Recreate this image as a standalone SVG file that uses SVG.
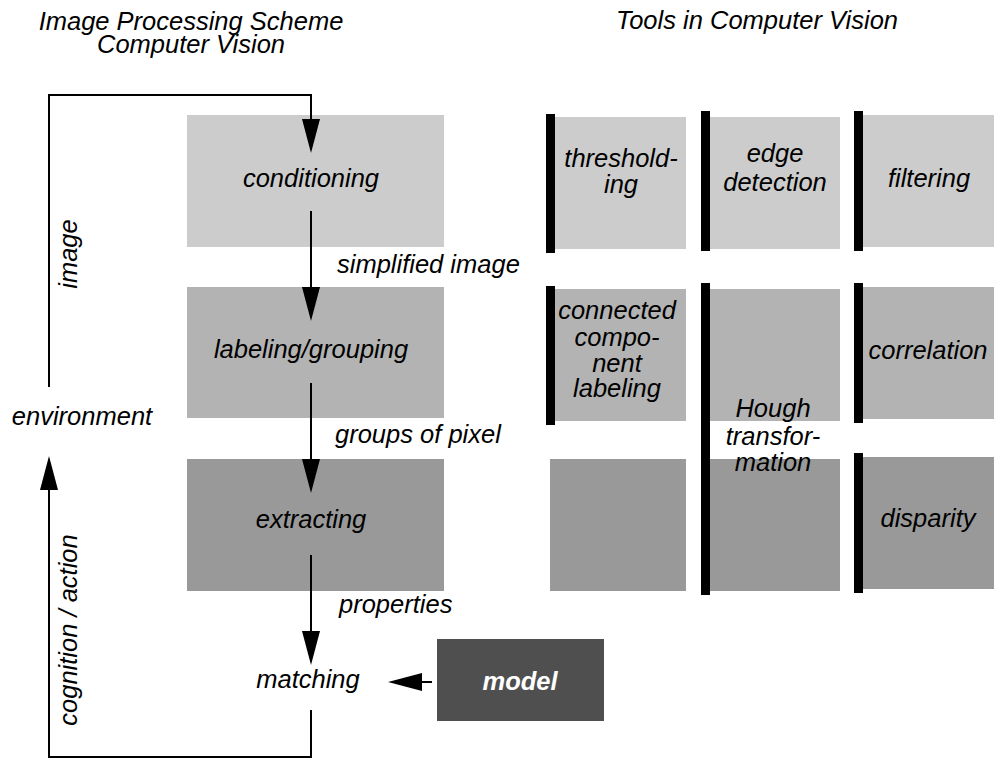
<svg xmlns="http://www.w3.org/2000/svg" width="1008" height="771" viewBox="0 0 1008 771">
<style>
text{font-family:"Liberation Sans",Arial,sans-serif;font-style:italic;font-size:25.5px;fill:#000;text-anchor:middle}
.l1{fill:#cccccc}.l2{fill:#b3b3b3}.l3{fill:#999999}
.bar{fill:#000}
.c{fill:none;stroke:#000;stroke-width:2}
.lbl{text-anchor:start}
</style>
<defs>
<marker id="ah" markerUnits="userSpaceOnUse" markerWidth="34" markerHeight="18" refX="0" refY="9" orient="auto" overflow="visible">
<path d="M0,0 L34,9 L0,18 z" fill="#000"/>
</marker>
</defs>
<rect width="1008" height="771" fill="#fff"/>
<g id="titles">
<text x="191" y="30">Image Processing Scheme</text>
<text x="191" y="53">Computer Vision</text>
<text x="757" y="29">Tools in Computer Vision</text>
</g>
<g id="conditioning"><rect class="l1" x="187" y="115" width="257" height="132"/><text x="311" y="187">conditioning</text></g>
<g id="labeling"><rect class="l2" x="187" y="287" width="257" height="131"/><text x="311" y="358">labeling/grouping</text></g>
<g id="extracting"><rect class="l3" x="187" y="459" width="257" height="132"/><text x="311" y="528">extracting</text></g>
<g id="matching"><text x="308" y="688">matching</text></g>
<g id="environment"><text x="82" y="425">environment</text></g>
<g id="model"><rect x="437" y="639" width="167" height="82" fill="#4f4f4f"/><text x="520" y="690" style="font-weight:bold;fill:#fff">model</text></g>
<g id="thresholding"><rect class="l1" x="555" y="117" width="131" height="132"/><rect class="bar" x="546" y="114" width="9" height="139"/><text x="621" y="167">threshold-</text><text x="621" y="193">ing</text></g>
<g id="edge-detection"><rect class="l1" x="710" y="117" width="130" height="132"/><rect class="bar" x="701" y="111" width="9" height="140"/><text x="775" y="162">edge</text><text x="775" y="191">detection</text></g>
<g id="filtering"><rect class="l1" x="863" y="115" width="131" height="132"/><rect class="bar" x="854" y="111" width="9" height="140"/><text x="929" y="187">filtering</text></g>
<g id="connected-component-labeling"><rect class="l2" x="555" y="289" width="131" height="132"/><rect class="bar" x="546" y="286" width="9" height="139"/><text x="617" y="319">connected</text><text x="617" y="346">compo-</text><text x="617" y="372">nent</text><text x="617" y="397">labeling</text></g>
<g id="empty-cell"><rect class="l3" x="550" y="459" width="136" height="132"/></g>
<g id="hough"><rect class="l2" x="710" y="289" width="130" height="132"/><rect class="l3" x="710" y="459" width="130" height="132"/><rect class="bar" x="701" y="283" width="9" height="312"/><text x="773" y="417">Hough</text><text x="773" y="445">transfor-</text><text x="773" y="471">mation</text></g>
<g id="correlation"><rect class="l2" x="863" y="287" width="131" height="132"/><rect class="bar" x="854" y="283" width="9" height="140"/><text x="928" y="359">correlation</text></g>
<g id="disparity"><rect class="l3" x="863" y="457" width="131" height="132"/><rect class="bar" x="854" y="453" width="9" height="140"/><text x="928" y="527">disparity</text></g>
<g id="connectors">
<path class="c" d="M49,387 V95 H311 V119" marker-end="url(#ah)"/>
<path class="c" d="M311,211 V287" marker-end="url(#ah)"/>
<path class="c" d="M311,383 V459" marker-end="url(#ah)"/>
<path class="c" d="M311,555 V631" marker-end="url(#ah)"/>
<path class="c" d="M432,682 H422" marker-end="url(#ah)"/>
<path class="c" d="M311,710 V757 H49 V490" marker-end="url(#ah)"/>
<text class="lbl" x="337" y="273">simplified image</text>
<text class="lbl" x="335" y="443">groups of pixel</text>
<text class="lbl" x="339" y="613">properties</text>
<text transform="translate(77,254) rotate(-90)">image</text>
<text transform="translate(77,630) rotate(-90)">cognition / action</text>
</g>
</svg>
